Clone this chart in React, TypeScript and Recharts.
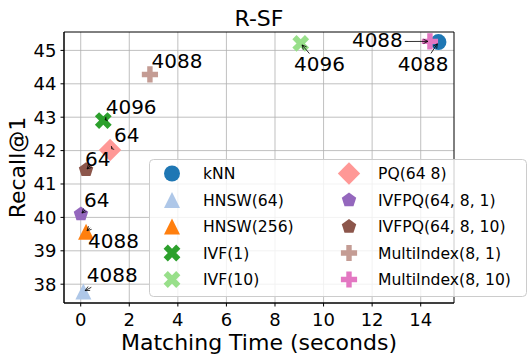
import React from 'react';
import { ScatterChart, Scatter, XAxis, YAxis, CartesianGrid, Legend, ReferenceArea } from 'recharts';

// ---- data ----
const methods = ['kNN', 'HNSW(64)', 'HNSW(256)', 'IVF(1)', 'IVF(10)', 'PQ(64 8)', 'IVFPQ(64, 8, 1)', 'IVFPQ(64, 8, 10)', 'MultiIndex(8, 1)', 'MultiIndex(8, 10)'];
const matchingTime = [14.73, 0.11, 0.22, 0.93, 9.06, 1.21, 0.01, 0.22, 2.85, 14.38];
const recallAt1 = [45.25, 37.78, 39.57, 42.9, 45.21, 42.02, 40.1, 41.42, 44.28, 45.27];
const pointLabels = ['4088', '4088', '4088', '4096', '4096', '64', '64', '64', '4088', '4088'];
const xTicks = [0, 2, 4, 6, 8, 10, 12, 14];
const yTicks = [38, 39, 40, 41, 42, 43, 44, 45];
const xDomain = [-0.688, 15.371];
const yDomain = [37.437, 45.551];

// ---- styles ----
const colors = ['#1f77b4', '#aec7e8', '#ff7f0e', '#2ca02c', '#98df8a', '#ff9896', '#9467bd', '#8c564b', '#c49c94', '#e377c2'];
const markers = ['circle', 'triangle', 'triangle', 'x', 'x', 'diamond', 'pentagon', 'pentagon', 'plus', 'plus'];
// text offset (left, baseline) relative to point, in px
const labelOffsets: [number, number][] = [[-40.8, 29], [3.4, -9.7], [2, 16.3], [2.4, -7], [-6.7, 27.7], [4, -8], [3, -7], [-1, -4], [1.7, -6.3], [-78, 6]];
const FONT = 'DejaVu Sans';

const points = methods.map((m, i) => ({ x: matchingTime[i], y: recallAt1[i], name: m, label: pointLabels[i], idx: i }));

function Marker({ kind, cx, cy, color }: { kind: string; cx: number; cy: number; color: string }) {
  if (kind === 'circle') return <circle cx={cx} cy={cy} r={8} fill={color} />;
  if (kind === 'triangle') {
    const s = 8;
    return <polygon points={`${cx},${cy - s} ${cx - s},${cy + s} ${cx + s},${cy + s}`} fill={color} />;
  }
  if (kind === 'diamond') {
    const s = 11.2;
    return <polygon points={`${cx},${cy - s} ${cx + s},${cy} ${cx},${cy + s} ${cx - s},${cy}`} fill={color} />;
  }
  if (kind === 'pentagon') {
    const r = 7.6;
    const pts = [0, 1, 2, 3, 4].map((k) => {
      const a = -Math.PI / 2 + (k * 2 * Math.PI) / 5;
      return `${cx + r * Math.cos(a)},${cy + r * Math.sin(a)}`;
    });
    return <polygon points={pts.join(' ')} fill={color} />;
  }
  if (kind === 'x') {
    const base = [[-1, -2], [0, -1], [1, -2], [2, -1], [1, 0], [2, 1], [1, 2], [0, 1], [-1, 2], [-2, 1], [-1, 0], [-2, -1]];
    const k = 4.2;
    return <polygon points={base.map(([a, b]) => `${cx + a * k},${cy + b * k}`).join(' ')} fill={color} />;
  }
  // plus
  const base = [[-1, -3], [-1, -1], [-3, -1], [-3, 1], [-1, 1], [-1, 3], [1, 3], [1, 1], [3, 1], [3, -1], [1, -1], [1, -3]];
  const k = 2.7;
  return <polygon points={base.map(([a, b]) => `${cx + a * k},${cy + b * k}`).join(' ')} fill={color} />;
}

function Arrow({ x1, y1, x2, y2 }: { x1: number; y1: number; x2: number; y2: number }) {
  const dx = x2 - x1;
  const dy = y2 - y1;
  const len = Math.hypot(dx, dy);
  if (len < 0.5) return null;
  const ux = dx / len;
  const uy = dy / len;
  const hl = Math.min(4.5, len);
  const hw = 2.2;
  const bx = x2 - ux * hl;
  const by = y2 - uy * hl;
  return (
    <g stroke="#000" strokeWidth={0.8} fill="none">
      <line x1={x1} y1={y1} x2={x2} y2={y2} />
      <polyline points={`${bx - uy * hw},${by + ux * hw} ${x2},${y2} ${bx + uy * hw},${by - ux * hw}`} />
    </g>
  );
}

function Annotation(props: any) {
  const { cx, cy, payload } = props;
  if (cx == null || cy == null || !payload) return null;
  const i = payload.idx;
  const [ox, oy] = labelOffsets[i];
  const tx = cx + ox;
  const ty = cy + oy;
  const w = payload.label.length * 0.636 * 20;
  const bl = tx, br = tx + w, bt = ty - 16, bb = ty + 4.5;
  const ccx = (bl + br) / 2, ccy = (bt + bb) / 2;
  const ddx = cx - ccx, ddy = cy - ccy;
  let t = 1;
  if (ddx !== 0) t = Math.min(t, Math.abs((w / 2) / ddx));
  if (ddy !== 0) t = Math.min(t, Math.abs(((bb - bt) / 2) / ddy));
  const sx = ccx + ddx * t, sy = ccy + ddy * t;
  const ex = cx, ey = cy;
  const L = Math.hypot(ex - sx, ey - sy);
  let arrow = null;
  if (t < 1 && L > 4) {
    const ux = (ex - sx) / L, uy = (ey - sy) / L;
    arrow = <Arrow x1={sx + ux * 2} y1={sy + uy * 2} x2={ex - ux * 2} y2={ey - uy * 2} />;
  } else {
    arrow = <Arrow x1={cx + 4} y1={cy - 4} x2={cx + 1} y2={cy - 1} />;
  }
  return (
    <g>
      {arrow}
      <text x={tx} y={ty} fontSize={20} fontFamily={FONT} fill="#000">{payload.label}</text>
    </g>
  );
}

function LegendBox() {
  const rowY = (r: number) => 14.5 + 26.5 * r;
  return (
    <svg width={379} height={139} style={{ display: 'block', overflow: 'visible' }}>
      <rect x={0.5} y={0.5} width={377} height={137} rx={4} ry={4} fill="#fff" fillOpacity={0.8} stroke="#cccccc" strokeWidth={1} />
      {methods.map((m, i) => {
        const col = i < 5 ? 0 : 1;
        const row = i % 5;
        const mx = col === 0 ? 23 : 200;
        const txx = col === 0 ? 54 : 229;
        const y = rowY(row);
        return (
          <g key={m}>
            <Marker kind={markers[i]} cx={mx} cy={y} color={colors[i]} />
            <text x={txx} y={y} dy="0.36em" fontSize={15.6} fontFamily={FONT} fill="#000">{m}</text>
          </g>
        );
      })}
    </svg>
  );
}

export default function App() {
  return (
    <div style={{ position: 'absolute', left: 0, top: 0, width: 531, height: 360, background: '#fff' }}>
      <ScatterChart width={531} height={360} margin={{ top: 32, right: 77, bottom: 0, left: 0 }}>
        <CartesianGrid stroke="#b0b0b0" strokeWidth={0.8} horizontalValues={yTicks} verticalValues={xTicks} />
        <XAxis
          type="number"
          dataKey="x"
          domain={xDomain}
          ticks={xTicks}
          allowDataOverflow
          height={57}
          tickSize={3.5}
          tickMargin={6.5}
          axisLine={{ stroke: '#000', strokeWidth: 1 }}
          tickLine={{ stroke: '#000', strokeWidth: 1 }}
          tick={{ fontSize: 18, fill: '#000', fontFamily: FONT }}
          label={(p: any) => {
            const vb = p.viewBox || { x: 64, y: 303, width: 390, height: 57 };
            return (
              <text x={vb.x + vb.width / 2} y={349.5} textAnchor="middle" fontSize={22} fontFamily={FONT} fill="#000">
                Matching Time (seconds)
              </text>
            );
          }}
        />
        <YAxis
          type="number"
          dataKey="y"
          domain={yDomain}
          ticks={yTicks}
          allowDataOverflow
          width={64}
          tickSize={3.5}
          tickMargin={4}
          axisLine={{ stroke: '#000', strokeWidth: 1 }}
          tickLine={{ stroke: '#000', strokeWidth: 1 }}
          tick={{ fontSize: 18, fill: '#000', fontFamily: FONT }}
          label={(p: any) => {
            const vb = p.viewBox || { x: 0, y: 32, width: 64, height: 271 };
            const cy = vb.y + vb.height / 2;
            return (
              <text x={25} y={cy} transform={`rotate(-90 25 ${cy})`} textAnchor="middle" fontSize={22} fontFamily={FONT} fill="#000">
                Recall@1
              </text>
            );
          }}
        />
        <ReferenceArea
          x1={xDomain[0]}
          x2={xDomain[1]}
          y1={yDomain[0]}
          y2={yDomain[1]}
          fill="none"
          fillOpacity={0}
          stroke="#000"
          strokeWidth={1}
          ifOverflow="visible"
          label={(p: any) => {
            const vb = p.viewBox || { x: 64, y: 32, width: 390, height: 271 };
            return (
              <text x={vb.x + vb.width / 2} y={25.5} textAnchor="middle" fontSize={22} fontFamily={FONT} fill="#000">
                R-SF
              </text>
            );
          }}
        />
        {methods.map((m, i) => (
          <Scatter
            key={m}
            name={m}
            data={[points[i]]}
            fill={colors[i]}
            isAnimationActive={false}
            shape={(p: any) => <Marker kind={markers[i]} cx={p.cx} cy={p.cy} color={colors[i]} />}
          />
        ))}
        <Scatter name="labels" data={points} legendType="none" isAnimationActive={false} shape={(p: any) => <Annotation {...p} />} />
        <Legend
          layout="horizontal"
          verticalAlign="middle"
          align="center"
          wrapperStyle={{ position: 'absolute', left: 149, top: 159, width: 379, height: 139 }}
          content={() => <LegendBox />}
        />
      </ScatterChart>
    </div>
  );
}
